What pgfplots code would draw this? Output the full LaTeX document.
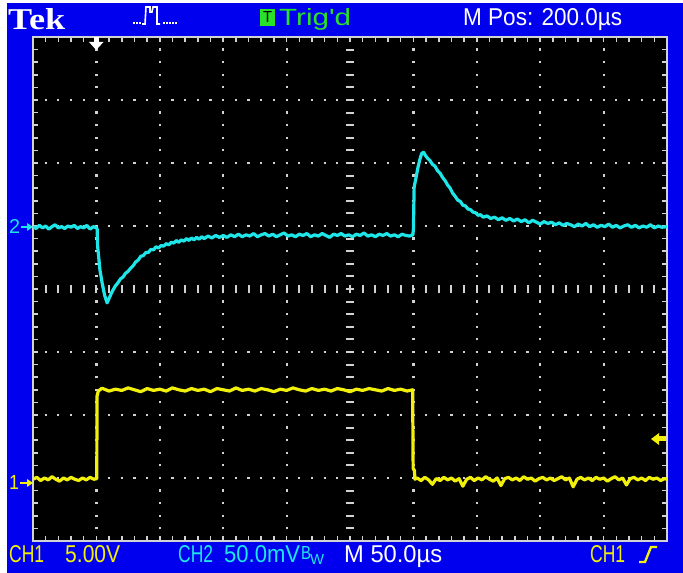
\documentclass[border=0pt]{standalone}
\usepackage{graphicx}
\usepackage{pgfplots}
\pgfplotsset{compat=1.18}
\usepackage{fontspec}
\setmainfont{Liberation Sans}
\newfontfamily\tekfont{Liberation Serif}
\definecolor{scrblue}{RGB}{0,0,238}
\definecolor{tcyan}{RGB}{30,230,232}
\definecolor{tyellow}{RGB}{242,240,10}
\definecolor{tgreen}{RGB}{40,225,40}
\definecolor{dotc}{RGB}{210,210,210}
\begin{document}
\begin{tikzpicture}[x=1pt,y=1pt]
\path[use as bounding box, fill=white] (0,0) rectangle (683,573);
\fill[scrblue] (7,0) rectangle (683,570);
% top bar
\node[anchor=base west,inner sep=0pt,text=white] at (8,543) {\resizebox{57pt}{21pt}{\tekfont\bfseries Tek}};
\node[anchor=base west,inner sep=0pt,text=white] at (463,547) {\resizebox{159pt}{17pt}{M Pos: 200.0µs}};
\fill[tgreen] (260,547) rectangle (275,564);
\node[anchor=base,inner sep=0pt,text=black] at (267.5,550) {\resizebox{9pt}{11pt}{T}};
\node[anchor=base west,inner sep=0pt,text=tgreen] at (279,547) {\resizebox{72pt}{17pt}{Trig\textquotesingle d}};
% pulse icon
\draw[white,line width=1.6pt] (142,549)--(145,549)--(146,566)--(150,566)--(150,561)--(152,561)--(153,566)--(157,566)--(157,549)--(160,549);
\foreach \xx in {133,136,139,163,166,169,172,175}{\fill[white] (\xx,548.5) rectangle (\xx+1.6,550.5);}
% bottom bar
\node[anchor=base west,inner sep=0pt,text=tyellow] at (9,10) {\resizebox{35pt}{17pt}{CH1}};
\node[anchor=base west,inner sep=0pt,text=tyellow] at (65,10) {\resizebox{55pt}{17pt}{5.00V}};
\node[anchor=base west,inner sep=0pt,text=tcyan] at (178,10) {\resizebox{35pt}{17pt}{CH2}};
\node[anchor=base west,inner sep=0pt,text=tcyan] at (224,10) {\resizebox{76pt}{17pt}{50.0mV}};
\node[anchor=base west,inner sep=0pt,text=tcyan] at (301,13) {\resizebox{10pt}{13pt}{B}};
\node[anchor=base west,inner sep=0pt,text=tcyan] at (310,8) {\resizebox{14pt}{10pt}{W}};
\node[anchor=base west,inner sep=0pt,text=white] at (344,10) {\resizebox{98pt}{17pt}{M 50.0µs}};
\node[anchor=base west,inner sep=0pt,text=tyellow] at (590,10) {\resizebox{35pt}{17pt}{CH1}};
\draw[tyellow,line width=2.4pt] (639,11)--(645,11)--(651,26)--(657,26);
\begin{axis}[
  at={(33pt,32pt)}, anchor=south west,
  width=634pt, height=504pt, scale only axis,
  xmin=0, xmax=500, ymin=-4, ymax=4,
  axis background/.style={fill=black},
  axis line style={draw=dotc, line width=1.8pt},
  xtick={0,50,100,150,200,300,350,400,450,500},
  ytick={-4,-3,-2,-1,1,2,3,4},
  minor xtick={0,10,...,500},
  minor ytick={-4,-3.8,...,4},
  major tick length=5pt, minor tick length=5pt, tick align=inside,
  every tick/.style={dotc, line width=1.5pt},
  xticklabels={}, yticklabels={},
  xmajorgrids, ymajorgrids,
  major x grid style={dotc, line width=2.2pt, dash pattern=on 2.2pt off 10.4pt, dash phase=1.1pt},
  major y grid style={dotc, line width=2.2pt, dash pattern=on 2.2pt off 10.48pt, dash phase=1.1pt},
  clip=true,
]
\pgfplotsinvokeforeach{10,20,...,490}{\draw[dotc,line width=2pt] (axis cs:#1,-0.065) -- (axis cs:#1,0.065);}
\pgfplotsinvokeforeach{-3.8,-3.6,...,3.8}{\draw[dotc,line width=2pt] (axis cs:246.8,#1) -- (axis cs:253.2,#1);}
% CH1 yellow
\addplot[tyellow, line width=3.2pt, line join=round] coordinates {
(0,-3.02)(3,-2.99)(6,-3.04)(9,-3.00)(12,-3.03)(15,-2.98)(18,-3.02)(21,-3.05)(24,-3.00)(27,-3.03)(30,-2.99)(33,-3.02)(36,-3.04)(39,-3.00)(42,-3.03)(45,-2.99)(48,-3.02)(50.3,-3.01)
(50.5,-1.70)(51.5,-1.62)(54,-1.58)
(55,-1.58)(60,-1.62)(65,-1.59)(70,-1.61)(75,-1.57)(80,-1.60)(85,-1.63)(90,-1.58)(95,-1.61)(100,-1.59)(105,-1.62)(110,-1.57)(115,-1.60)(120,-1.62)(125,-1.58)(130,-1.61)(135,-1.59)(140,-1.63)(145,-1.58)(150,-1.60)(155,-1.62)(160,-1.57)(165,-1.61)(170,-1.59)(175,-1.62)(180,-1.58)(185,-1.60)(190,-1.63)(195,-1.59)(200,-1.61)(205,-1.57)(210,-1.60)(215,-1.62)(220,-1.58)(225,-1.61)(230,-1.59)(235,-1.62)(240,-1.58)(245,-1.60)(250,-1.63)(255,-1.59)(260,-1.61)(265,-1.58)(270,-1.60)(275,-1.62)(280,-1.58)(285,-1.61)(290,-1.59)(295,-1.62)(299.4,-1.60)
(299.8,-2.85)(300.8,-2.88)(301.2,-3.02)
(303,-3.00)(306,-3.04)(309,-2.99)(312,-3.03)(315,-3.10)(318,-3.01)(321,-3.04)(324,-2.99)(327,-3.03)(330,-3.00)(333,-3.05)(336,-3.01)(339,-3.13)(342,-3.02)(345,-2.99)(348,-3.04)(351,-3.00)(354,-3.03)(357,-2.98)(360,-3.02)(363,-3.05)(366,-3.00)(369,-3.12)(372,-3.01)(375,-2.99)(378,-3.03)(381,-3.00)(384,-3.04)(387,-2.98)(390,-3.02)(393,-3.00)(396,-3.05)(399,-3.01)(402,-2.99)(405,-3.03)(408,-3.00)(411,-3.04)(414,-3.01)(417,-2.98)(420,-3.03)(423,-3.00)(426,-3.14)(429,-3.02)(432,-2.99)(435,-3.03)(438,-3.00)(441,-3.04)(444,-2.99)(447,-3.02)(450,-3.00)(453,-3.05)(456,-3.01)(459,-2.98)(462,-3.03)(465,-3.00)(468,-3.11)(471,-3.01)(474,-2.99)(477,-3.03)(480,-3.00)(483,-3.04)(486,-2.99)(489,-3.02)(492,-3.00)(495,-3.04)(498,-3.01)(500,-3.02)
};
% CH2 cyan
\addplot[tcyan, line width=3.2pt, line join=round] coordinates {
(0,0.99)(2.5,0.96)(5,1.01)(7.5,0.97)(10,1.00)(12.5,0.95)(15,0.99)(17.5,1.02)(20,0.97)(22.5,0.99)(25,0.96)(27.5,1.00)(30,0.98)(32.5,1.01)(35,0.96)(37.5,0.99)(40,0.97)(42.5,1.01)(45,0.95)(47.5,0.99)(50,0.97)
(50.6,0.95)(51.0,0.67)(51.6,0.55)(52.8,0.30)(54.5,0.10)(56.5,-0.10)(58.4,-0.22)(60,-0.15)(61.5,-0.08)(63,-0.02)(65,0.05)(67,0.10)(69,0.16)(71,0.19)(73,0.25)(75,0.28)(77,0.33)(79,0.37)(81,0.43)(83,0.46)(85,0.52)(87,0.53)(89,0.58)(91,0.58)(93,0.63)(95,0.62)(97,0.67)(99,0.65)(101,0.69)(103,0.68)(105,0.72)(107,0.70)(109,0.74)(111,0.73)(113,0.77)(115,0.74)(117,0.78)(119,0.76)(121,0.80)(123,0.77)(125,0.81)(127,0.78)(129,0.82)(131,0.79)(133,0.83)(135,0.80)(138,0.84)(141,0.81)(144,0.85)(147,0.82)(150,0.85)(153,0.82)(156,0.86)(159,0.83)(162,0.87)(165,0.83)(168,0.86)(171,0.84)(174,0.88)(177,0.83)(180,0.86)
(183,0.88)(186,0.84)(189,0.87)(192,0.83)(195,0.86)(198,0.89)(201,0.84)(204,0.86)(207,0.83)(210,0.87)(213,0.85)(216,0.88)(219,0.83)(222,0.86)(225,0.84)(228,0.88)(231,0.85)(234,0.82)(237,0.87)(240,0.85)(243,0.88)(246,0.84)(249,0.86)(252,0.83)(255,0.87)(258,0.85)(261,0.89)(264,0.84)(267,0.86)(270,0.83)(273,0.87)(276,0.85)(279,0.88)(282,0.84)(285,0.86)(288,0.83)(291,0.87)(294,0.85)(297,0.84)(299.6,0.86)
(300.0,0.95)(300.6,1.62)(302,1.76)(303.5,1.92)(305,2.05)(306.5,2.15)(308,2.17)(309.5,2.12)(311,2.08)(313,2.04)(315,1.98)(317,1.95)(319,1.88)(321,1.84)(323,1.77)(325,1.72)(327,1.65)(329,1.60)(331,1.52)(333,1.47)(335,1.41)(337,1.39)(339,1.33)(341,1.32)(343,1.27)(345,1.26)(347,1.22)(349,1.21)(351,1.17)(353,1.18)(355,1.14)(358,1.16)(361,1.12)(364,1.14)(367,1.10)(370,1.13)(373,1.09)(376,1.12)(379,1.08)(382,1.11)(385,1.07)(388,1.10)(391,1.05)(394,1.09)(397,1.06)(400,1.03)(403,1.07)(406,1.04)(409,1.06)(412,1.02)(415,1.05)(418,1.01)(421,1.04)(424,1.02)(427,0.99)(430,1.03)(433,1.00)(436,1.04)(439,0.99)(442,1.02)(445,0.98)(448,1.01)(451,0.99)(454,1.03)(457,0.98)(460,1.01)(463,0.97)(466,1.00)(469,1.02)(472,0.98)(475,1.01)(478,0.97)(481,1.00)(484,0.98)(487,1.02)(490,0.97)(493,1.00)(496,0.98)(500,0.99)
};
\end{axis}
% channel markers
\node[anchor=base west,inner sep=0pt,text=tcyan] at (9,339) {\resizebox{11pt}{14pt}{2}};
\draw[tcyan,line width=1.6pt] (21,346)--(31,346);
\fill[tcyan] (27,342)--(33,346)--(27,350)--cycle;
\node[anchor=base west,inner sep=0pt,text=tyellow] at (9,83) {\resizebox{10pt}{14pt}{1}};
\draw[tyellow,line width=1.6pt] (20,90)--(31,90);
\fill[tyellow] (27,86)--(33,90)--(27,94)--cycle;
% trigger position
\fill[white] (94,536) rectangle (98.5,531);
\fill[white] (89,531)--(103.5,531)--(96.2,523)--cycle;
% trigger level
\fill[tyellow] (651,134)--(659,140)--(659,128)--cycle;
\fill[tyellow] (658,131.5) rectangle (666,136.5);
\end{tikzpicture}
\end{document}
